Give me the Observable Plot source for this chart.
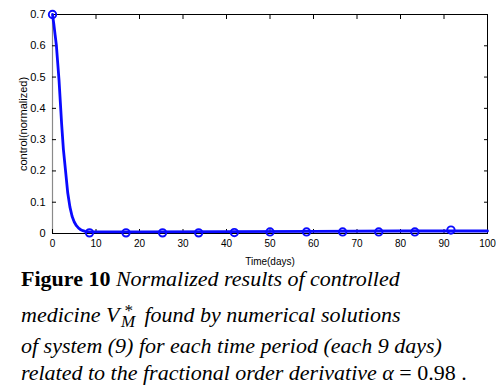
<!DOCTYPE html>
<html>
<head>
<meta charset="utf-8">
<script src="https://cdn.jsdelivr.net/npm/d3@7"></script>
<script src="https://cdn.jsdelivr.net/npm/@observablehq/plot@0.6"></script>
<style>
  html, body { margin: 0; padding: 0; background: #fff; }
  #wrap { position: relative; width: 496px; height: 388px; overflow: hidden; }
  .cap { position: absolute; left: 21px; font-family: "Liberation Serif", "Times New Roman", serif; font-size: 22px; line-height: 16px; white-space: nowrap; color: #000; }
  .cap i { font-style: italic; }
  .vm { display: inline-block; position: relative; width: 33px; height: 16px; }
  .vm > * { position: absolute; }
  .supsub { white-space: pre; font-size: 17px; line-height: 11px; text-align: center; font-style: italic; }
</style>
</head>
<body>
<div id="wrap">
  <div id="chart"></div>
  <div class="cap" style="top:270.6px"><b>Figure 10</b> <i>Normalized results of controlled</i></div>
  <div class="cap" style="top:306.3px"><i>medicine </i><span class="vm"><i style="left:0;top:0.6px;line-height:16px">V</i><span class="supsub" style="left:15px;top:-1.2px">*
M</span></span><i> found by numerical solutions</i></div>
  <div class="cap" style="top:337.6px"><i>of system (9) for each time period (each 9 days)</i></div>
  <div class="cap" style="top:364.6px"><i>related to the fractional order derivative α</i> = 0.98 .</div>
</div>
<script>
// curve: normalized controlled medicine over time
const curveT = [0, 0.3, 0.6, 0.9, 1.2, 1.5, 1.8, 2.1, 2.5, 3.0, 3.5, 4.0, 4.5, 5.0, 5.5, 6.0, 6.5, 7.0, 7.5, 8.5, 20, 40, 60, 80, 100];
const curveV = [0.70, 0.67, 0.635, 0.60, 0.545, 0.49, 0.42, 0.35, 0.27, 0.20, 0.13, 0.085, 0.055, 0.037, 0.025, 0.017, 0.012, 0.009, 0.007, 0.005, 0.005, 0.006, 0.007, 0.008, 0.008];
// markers (each time period)
const markT = [0, 8.5, 16.9, 25.3, 33.6, 41.8, 50, 58.4, 66.7, 75, 83.3, 91.6];
const markV = [0.70, 0.002, 0.002, 0.002, 0.002, 0.003, 0.005, 0.005, 0.005, 0.005, 0.005, 0.011];
// ticks
const xTicks = [0, 10, 20, 30, 40, 50, 60, 70, 80, 90, 100];
const yTicks = [0, 0.1, 0.2, 0.3, 0.4, 0.5, 0.6, 0.7];
const yTickLabels = ["0", "0.1", "0.2", "0.3", "0.4", "0.5", "0.6", "0.7"];
const xLabel = "Time(days)";
const yLabel = "control(normalized)";

const curve = curveT.map((t, i) => ({t, v: curveV[i]}));
const marks = markT.map((t, i) => ({t, v: markV[i]}));
const blue = "#0a0aff";

const chart = Plot.plot({
  width: 496,
  height: 268,
  marginTop: 14,
  marginBottom: 35,
  marginLeft: 52,
  marginRight: 9,
  style: {fontFamily: "'Liberation Sans', Arial, sans-serif", fontSize: "10px", color: "#000", background: "#fff"},
  x: {domain: [0, 100]},
  y: {domain: [0, 0.7]},
  marks: [
    Plot.frame({stroke: "#000"}),
    Plot.ruleX([0], {stroke: "#8a8a8a", strokeWidth: 1.2}),
    Plot.axisX({anchor: "bottom", ticks: xTicks, tickSize: -4, tickPadding: 10, tickFormat: d => String(d),
      label: xLabel, labelAnchor: "center", labelArrow: "none", labelOffset: 31}),
    Plot.axisX({anchor: "top", ticks: xTicks, tickSize: -4, tickFormat: () => "", label: null}),
    Plot.axisY({anchor: "left", ticks: yTicks, tickSize: -4, tickPadding: 11,
      tickFormat: d => yTickLabels[yTicks.findIndex(v => Math.abs(v - d) < 1e-9)],
      label: yLabel, labelAnchor: "center", labelArrow: "none", labelOffset: 33, fontSize: 11}),
    Plot.axisY({anchor: "right", ticks: yTicks, tickSize: -4, tickFormat: () => "", label: null}),
    Plot.line(curve, {x: "t", y: "v", stroke: blue, strokeWidth: 2.8}),
    Plot.dot(marks, {x: "t", y: "v", r: 3.7, stroke: blue, strokeWidth: 1.9, fill: "none"})
  ]
});
document.getElementById("chart").appendChild(chart);
</script>
</body>
</html>
